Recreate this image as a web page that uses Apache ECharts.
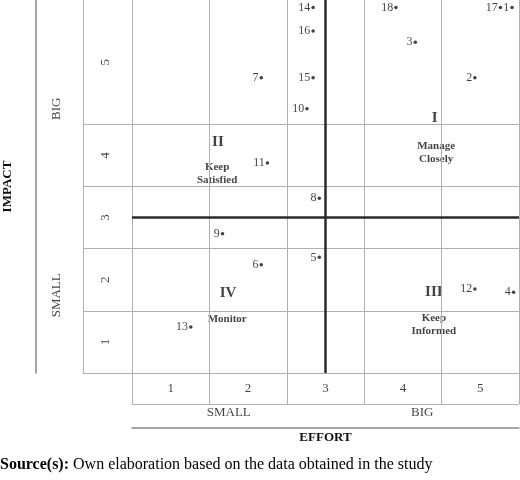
<!DOCTYPE html>
<html lang="en">
<head>
<meta charset="UTF-8">
<title>Effort / Impact matrix</title>
<script src="https://cdn.jsdelivr.net/npm/echarts@6/dist/echarts.min.js"></script>
<style>
  html, body { margin: 0; padding: 0; background: #fff; }
  #chart { width: 520px; height: 480px; }
</style>
</head>
<body>
<div id="chart"></div>
<script>
var ids    = ['1', '2', '3', '4', '5', '6', '7', '8', '9', '10', '11', '12', '13', '14', '15', '16', '17', '18'];
var effort = [5.41, 4.93, 4.16, 5.43, 2.92, 2.17, 2.17, 2.92, 1.67, 2.76, 2.25, 4.93, 1.26, 2.84, 2.84, 2.84, 5.26, 3.91];
var impact = [6.38, 5.25, 5.82, 1.80, 2.36, 2.24, 5.25, 3.31, 2.74, 4.75, 3.88, 1.85, 1.24, 6.38, 5.25, 6.00, 6.38, 6.38];

// tick labels and the cells they sit in (top row of the matrix is taller)
var xTicks = ['1', '2', '3', '4', '5'];
var xEdges = [0.5, 1.5, 2.5, 3.5, 4.5, 5.5];
var yTicks = ['1', '2', '3', '4', '5'];
var yEdges = [0.5, 1.5, 2.5, 3.5, 4.5, 6.5];

// SMALL / BIG bands on both axes, split at the middle line
var groupNames = ['SMALL', 'BIG'];
var xGroupEdges = [0.5, 3, 5.5];
var yGroupEdges = [0.5, 3, 6.5];
var midX = 3, midY = 3;

// quadrant captions
var quadNums   = ['I', 'II', 'III', 'IV'];
var quadNames  = ['Manage\nClosely', 'Keep\nSatisfied', 'Keep\nInformed', 'Monitor'];
var quadNumAt  = [[4.41, 4.60], [1.61, 4.21], [4.40, 1.80], [1.74, 1.79]];
var quadNameAt = [[4.43, 4.05], [1.60, 3.70], [4.40, 1.28], [1.73, 1.36]];

var SERIF = '"Liberation Serif", "DejaVu Serif", serif';
var GRID_C = '#b0b0b0', FRAME_C = '#888888', INK = '#111';

function centers(edges) {
	var c = [];
	for (var i = 0; i < edges.length - 1; i++) c.push((edges[i] + edges[i + 1]) / 2);
	return c;
}
function vLines(vals, style) {
	return vals.map(function (v) { return { xAxis: v, lineStyle: style }; });
}
function hLines(vals, style) {
	return vals.map(function (v) { return { yAxis: v, lineStyle: style }; });
}
function axis(gridIndex, min, max, line, color) {
	return {
		type: 'value', gridIndex: gridIndex, min: min, max: max,
		axisLine: { show: line, onZero: false, lineStyle: { color: color || GRID_C, width: 1 } },
		axisTick: { show: false }, axisLabel: { show: false }, splitLine: { show: false }
	};
}
function markLines(data) {
	return { silent: true, symbol: ['none', 'none'], label: { show: false }, animation: false, data: data };
}

var gridStyle = { color: GRID_C, width: 1, type: 'solid' };
var thickStyle = { color: '#2b2b2b', width: 2.5, type: 'solid' };
var innerX = xEdges.slice(1, -1), innerY = yEdges.slice(1, -1);

var points = ids.map(function (id, i) { return { value: [effort[i], impact[i]], name: id }; });
var yTickData = centers(yEdges).map(function (c, i) { return { value: [0.5, c], name: yTicks[i] }; });
var xTickData = centers(xEdges).map(function (c, i) { return { value: [c, 0.5], name: xTicks[i] }; });
var yGroupData = centers(yGroupEdges).map(function (c, i) { return { value: [0.5, c], name: groupNames[i] }; });
var xGroupData = centers(xGroupEdges).map(function (c, i) { return { value: [c, 0.5], name: groupNames[i] }; });

var xAxes = [
	axis(0, 0.5, 5.5, true),
	axis(1, 0, 1, true),
	axis(2, 0.5, 5.5, true),
	axis(3, 0, 1, false),
	axis(4, 0.5, 5.5, true, FRAME_C)
];
xAxes[4].axisLine.lineStyle.width = 1.5;
xAxes[4].name = 'EFFORT';
xAxes[4].nameLocation = 'middle';
xAxes[4].nameGap = 3;
xAxes[4].nameTextStyle = { fontFamily: SERIF, fontSize: 13, fontWeight: 'bold', color: INK, verticalAlign: 'top' };

var yAxes = [
	axis(0, 0.5, 6.5, true),
	axis(1, 0.5, 6.5, true),
	axis(2, 0, 1, true),
	axis(3, 0.5, 6.5, true, FRAME_C),
	axis(4, 0, 1, false)
];
yAxes[3].axisLine.lineStyle.width = 1.5;
yAxes[3].name = 'IMPACT';
yAxes[3].nameLocation = 'middle';
yAxes[3].nameRotate = 90;
yAxes[3].nameGap = 22;
yAxes[3].nameTextStyle = { fontFamily: SERIF, fontSize: 13, fontWeight: 'bold', color: INK };

function textSeries(xi, data, label) {
	return {
		type: 'scatter', xAxisIndex: xi, yAxisIndex: xi, symbolSize: 0, silent: true,
		data: data,
		label: Object.assign({ show: true, position: 'inside', formatter: '{b}', fontFamily: SERIF, color: INK }, label)
	};
}

var option = {
	backgroundColor: '#fff',
	animation: false,
	title: {
		left: 0, top: 457, padding: 0,
		text: '{b|Source(s):} Own elaboration based on the data obtained in the study',
		textStyle: {
			fontFamily: SERIF, fontSize: 16, fontWeight: 'normal', color: '#000',
			rich: { b: { fontFamily: SERIF, fontSize: 16, fontWeight: 'bold', color: '#000' } }
		}
	},
	grid: [
		{ left: 132, right: 1, top: 0, height: 373 },   // matrix
		{ left: 83, width: 49, top: 0, height: 373 },   // impact ticks
		{ left: 132, right: 1, top: 373, height: 31 },  // effort ticks
		{ left: 35, width: 48, top: 0, height: 373 },   // impact bands
		{ left: 132, right: 1, top: 404, height: 24 }   // effort bands
	],
	xAxis: xAxes,
	yAxis: yAxes,
	series: [
		{
			type: 'scatter', xAxisIndex: 0, yAxisIndex: 0,
			symbol: 'circle', symbolSize: 3.5,
			itemStyle: { color: INK },
			data: points,
			label: { show: true, position: 'left', distance: 1, formatter: '{b}', fontFamily: SERIF, fontSize: 12, color: INK },
			markLine: markLines(
				vLines(innerX.concat([xEdges[xEdges.length - 1]]), gridStyle)
					.concat(hLines(innerY, gridStyle))
					.concat(vLines([midX], thickStyle))
					.concat(hLines([midY], thickStyle))
			)
		},
		textSeries(0, quadNums.map(function (t, i) { return { value: quadNumAt[i], name: t }; }),
			{ fontSize: 15, fontWeight: 'bold' }),
		textSeries(0, quadNames.map(function (t, i) { return { value: quadNameAt[i], name: t }; }),
			{ fontSize: 11, fontWeight: 'bold', lineHeight: 13 }),
		// rotated labels: offset is in the rotated frame, [0, -n] moves left on screen
		Object.assign(textSeries(1, yTickData, { fontSize: 13, rotate: 90, offset: [0, -2] }),
			{ markLine: markLines(hLines(innerY, gridStyle)) }),
		Object.assign(textSeries(2, xTickData, { fontSize: 13 }),
			{ markLine: markLines(vLines(innerX.concat([xEdges[xEdges.length - 1]]), gridStyle)) }),
		textSeries(3, yGroupData, { fontSize: 13, rotate: 90, offset: [0, -3] }),
		textSeries(4, xGroupData, { fontSize: 13, offset: [0, -3] })
	]
};

var chart = echarts.init(document.getElementById('chart'));
chart.setOption(option);
</script>
</body>
</html>
